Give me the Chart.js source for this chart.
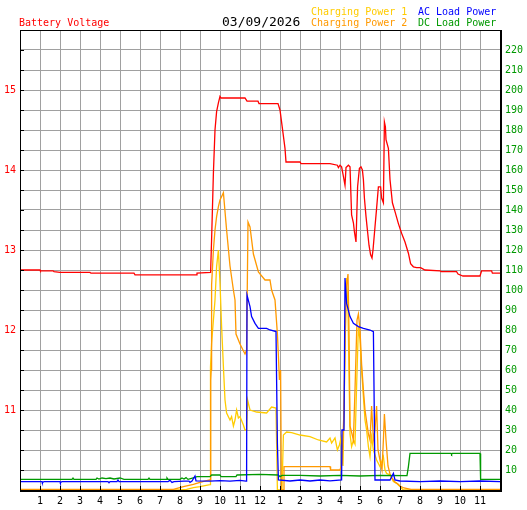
<!DOCTYPE html>
<html>
<head>
<meta charset="utf-8">
<script src="https://cdn.jsdelivr.net/npm/chart.js@4"></script>
<style>
  body { margin: 0; background: #fff; }
  #contenedor { position: relative; width: 527px; height: 510px; }
  #grafico { position: absolute; left: 0; top: 0; }
  .cabecera { position: absolute; font-family: "DejaVu Sans Mono", monospace; font-size: 10px; line-height: 10px; white-space: pre; }
</style>
</head>
<body>
<div id="contenedor">
  <canvas id="grafico" width="527" height="510"></canvas>
  <span class="cabecera" style="left:19px; top:18px; color:#ff0000;">Battery Voltage</span>
  <span class="cabecera" style="left:222px; top:14.5px; font-size:13px; line-height:13px; color:#000;">03/09/2026</span>
  <span class="cabecera" style="left:311px; top:6.5px; color:#ffcc00;">Charging Power 1</span>
  <span class="cabecera" style="left:311px; top:18px; color:#ff9900;">Charging Power 2</span>
  <span class="cabecera" style="left:418px; top:6.5px; color:#0000ff;">AC Load Power</span>
  <span class="cabecera" style="left:418px; top:18px; color:#009900;">DC Load Power</span>
</div>
<script>
// DATOS (hora del dia, valor)
const hourLabels = ['', '1', '2', '3', '4', '5', '6', '7', '8', '9', '10', '11', '12',
    '1', '2', '3', '4', '5', '6', '7', '8', '9', '10', '11', ''];

const batteryVoltage = [[0,12.75],[1.0,12.75],[1.02,12.74],[1.65,12.74],[1.7,12.73],[2.0,12.72],[3.5,12.72],[3.55,12.71],
    [5.7,12.71],[5.75,12.69],[8.8,12.69],[8.85,12.71],[9.53,12.72],[9.58,13.13],[9.67,13.96],[9.75,14.5],[9.83,14.73],
    [9.92,14.84],[10.0,14.92],[10.05,14.9],[11.25,14.9],[11.35,14.86],[11.9,14.86],[11.95,14.83],[12.9,14.83],[13.0,14.75],
    [13.25,14.27],[13.3,14.1],[14.0,14.1],[14.05,14.08],[15.5,14.08],[15.87,14.06],[15.92,14.03],[16.0,14.06],[16.08,14.04],
    [16.17,13.92],[16.25,13.81],[16.3,14.03],[16.42,14.06],[16.5,14.04],[16.58,13.44],[16.67,13.34],[16.72,13.23],[16.8,13.1],
    [16.88,13.79],[16.97,14.02],[17.05,14.04],[17.12,14.0],[17.17,13.88],[17.22,13.65],[17.3,13.42],[17.37,13.25],[17.45,13.06],
    [17.53,12.94],[17.6,12.9],[17.65,13.0],[17.75,13.29],[17.83,13.52],[17.92,13.79],[18.03,13.79],[18.08,13.65],[18.17,13.59],
    [18.22,14.6],[18.27,14.54],[18.3,14.38],[18.42,14.27],[18.5,13.88],[18.62,13.59],[18.75,13.48],[18.92,13.33],[19.08,13.21],
    [19.25,13.1],[19.42,12.96],[19.53,12.83],[19.67,12.79],[19.83,12.78],[20.03,12.78],[20.25,12.75],[21.0,12.74],[21.05,12.73],
    [21.83,12.73],[21.9,12.7],[22.15,12.675],[23.0,12.675],[23.08,12.74],[23.58,12.74],[23.62,12.71],[24,12.71]];

const chargingPower1 = [[0,0],[8.0,0],[8.33,0.3],[8.67,1.2],[9.0,1.7],[9.5,2.7],[9.52,2.7],[9.53,61.5],[9.58,73.5],[9.75,95],
    [9.83,111.7],[9.92,120],[10.0,103.5],[10.08,81.7],[10.17,61.7],[10.25,45],[10.33,38.5],[10.5,35],[10.58,36.7],[10.67,32],
    [10.75,35],[10.83,40],[10.92,36],[11.0,36.7],[11.17,32.5],[11.25,30],[11.33,30],[11.38,45],[11.5,40],[11.83,39],[12.33,38.5],
    [12.58,41.5],[12.8,41],[12.87,0],[13.1,0],[13.17,27.5],[13.33,29],[13.58,28.7],[14.0,27.5],[14.5,26.7],[14.92,25],[15.33,24],
    [15.5,26],[15.58,23.5],[15.75,26],[15.87,20],[15.97,22.5],[16.05,26],[16.1,18],[16.15,12],[16.25,70],[16.33,106],[16.4,90],
    [16.5,28],[16.58,21.7],[16.67,25],[16.75,23],[16.83,51.7],[16.92,81.7],[17.0,75],[17.08,60],[17.17,46.7],[17.25,35],[17.33,30],
    [17.42,21.7],[17.5,16.7],[17.58,26.7],[17.67,20],[17.83,15],[18.0,11.7],[18.17,16.7],[18.25,10],[18.33,8.3],[18.5,7.5],
    [18.67,4.2],[18.83,3.3],[19.0,1.7],[19.17,0],[24,0]];

const chargingPower2 = [[0,0.3],[7.67,0.3],[8.17,1.7],[8.67,2.8],[9.0,3.8],[9.33,4.7],[9.5,5],[9.53,5.5],[9.54,55],[9.56,60],
    [9.58,102.5],[9.67,120],[9.75,130],[9.83,136.7],[9.92,141.7],[10.0,145],[10.17,148.6],[10.33,130],[10.5,112],[10.67,100],
    [10.75,95],[10.8,78],[11.0,73],[11.25,68],[11.33,70],[11.4,134],[11.5,131.5],[11.67,118],[11.92,109],[12.25,105],[12.5,105],
    [12.58,100],[12.75,95],[12.87,78],[12.92,67],[12.97,55],[13.03,60],[13.07,0],[13.15,0],[13.2,11.7],[15.5,11.7],[15.53,10],
    [16.0,10],[16.1,13],[16.2,40],[16.3,100],[16.4,108],[16.45,80],[16.5,32],[16.6,28],[16.67,25],[16.75,50],[16.85,85],[16.92,88],
    [17.0,80],[17.08,63],[17.17,50],[17.25,40],[17.42,28],[17.5,25],[17.58,42],[17.67,25],[17.75,30],[17.83,42],[17.9,20],[18.0,15],
    [18.1,10],[18.17,25],[18.22,38],[18.3,25],[18.4,12],[18.5,8],[18.6,6],[18.75,4],[18.9,3],[19.0,2],[19.2,1],[19.55,0.3],[24,0.3]];

const acLoadPower = [[0,4.2],[1.1,4.2],[1.12,3.6],[1.2,4.2],[2.0,4.2],[2.02,3.6],[2.1,4.2],[4.4,4.2],[4.45,3.6],[4.5,4.2],
    [4.85,4.2],[4.9,5],[4.95,4.2],[7.4,4.2],[7.5,4.8],[7.6,3.8],[7.7,4.2],[8.2,4.4],[8.45,4.4],[8.5,3.8],[8.6,4.5],[8.75,7],
    [8.8,4.6],[9.5,4.4],[10.0,4.7],[10.5,4.4],[11.0,4.8],[11.3,4.4],[11.33,5],[11.35,97.5],[11.5,91.7],[11.58,86.7],[11.75,83.3],
    [11.92,80.8],[12.33,80.8],[12.5,80],[12.8,79.2],[12.87,23.3],[12.92,5],[13.5,4.5],[14.0,5],[14.5,4.5],[15.0,5],[15.5,4.6],
    [16.08,5],[16.1,30],[16.2,30],[16.25,106],[16.33,93.3],[16.5,86.7],[16.67,83.3],[16.92,81.7],[17.17,80.8],[17.5,80],
    [17.67,79.2],[17.75,5],[18.5,5],[18.67,8.3],[18.75,5],[19.0,4.5],[20.0,4.2],[21.0,4.5],[22.0,4.2],[23.0,4.5],[24,4.2]];

const dcLoadPower = [[0,5.3],[2.6,5.3],[2.65,6],[2.7,5.3],[3.8,5.3],[3.85,6],[3.95,5.5],[4.1,6],[4.3,5.7],[4.5,6],[4.7,5.5],
    [5.0,6],[5.2,5.3],[6.4,5.3],[6.45,6],[6.5,5.3],[7.3,5.3],[7.35,6],[7.4,5.3],[8.0,5.3],[8.1,6],[8.2,5.5],[8.3,6.2],[8.4,5.3],
    [8.75,6.3],[8.85,6.7],[9.5,6.7],[9.58,7.5],[10.0,7.5],[10.05,6.7],[10.8,6.7],[10.85,7.5],[12.0,7.8],[12.9,7.5],[13.0,6.7],
    [13.1,7.3],[14.0,7.3],[15.0,7.0],[16.0,7.3],[17.0,7.0],[18.0,7.3],[19.35,7.2],[19.42,11.7],[19.5,18.3],[21.55,18.3],
    [21.58,17.8],[21.62,18.3],[23.0,18.3],[23.03,5.3],[24,5.3]];

const fuente = "'DejaVu Sans Mono', monospace";

function puntos(serie) {
    return serie.map(function (p) { return { x: p[0], y: p[1] }; });
}

// marco negro y marcas de los ejes hacia dentro
const marcoPlugin = {
    id: 'marco',
    afterDatasetsDraw: function (chart) {
        const c = chart.ctx;
        const a = chart.chartArea;
        const sx = chart.scales.x;
        const sv = chart.scales.yVolt;
        c.save();
        c.fillStyle = '#000';
        for (let h = 1; h < 24; h++) {
            const px = Math.round(sx.getPixelForValue(h));
            c.fillRect(px, a.bottom - 4, 1, 4);
        }
        sv.ticks.forEach(function (t) {
            const py = Math.round(sv.getPixelForValue(t.value));
            c.fillRect(a.left, py, 4, 1);
        });
        c.fillRect(a.left, a.top, 1, a.bottom - a.top + 1);
        c.fillRect(a.left, a.top, a.right - a.left + 1, 1);
        c.fillRect(a.right, a.top, 2, a.bottom - a.top + 2);
        c.fillRect(a.left, a.bottom, a.right - a.left + 2, 2);
        c.restore();
    }
};

const ctx = document.getElementById('grafico').getContext('2d');

var chart = new Chart(ctx, {
    type: 'line',
    data: {
        datasets: [
            { label: 'Battery Voltage', data: puntos(batteryVoltage), borderColor: '#ff0000', yAxisID: 'yVolt' },
            { label: 'AC Load Power', data: puntos(acLoadPower), borderColor: '#0000ff', yAxisID: 'yPower' },
            { label: 'DC Load Power', data: puntos(dcLoadPower), borderColor: '#009900', yAxisID: 'yPower' },
            { label: 'Charging Power 2', data: puntos(chargingPower2), borderColor: '#ff9900', yAxisID: 'yPower' },
            { label: 'Charging Power 1', data: puntos(chargingPower1), borderColor: '#ffcc00', yAxisID: 'yPower' }
        ]
    },
    options: {
        responsive: false,
        animation: false,
        devicePixelRatio: 1,
        layout: { padding: { top: 30, left: 0, right: 0, bottom: 0 } },
        elements: {
            point: { radius: 0 },
            line: { borderWidth: 1.3, tension: 0, fill: false }
        },
        plugins: {
            legend: { display: false },
            tooltip: { enabled: false }
        },
        scales: {
            x: {
                type: 'linear',
                min: 0,
                max: 24,
                grid: { color: '#a0a0a0', drawTicks: false },
                border: { display: false },
                ticks: {
                    stepSize: 1,
                    autoSkip: false,
                    maxRotation: 0,
                    padding: 5,
                    color: '#000',
                    font: { family: fuente, size: 10 },
                    callback: function (v) { return hourLabels[Math.round(v)]; }
                },
                afterFit: function (s) { s.height = 20; }
            },
            yVolt: {
                position: 'left',
                min: 10,
                max: 15.75,
                grid: { color: '#a0a0a0', drawTicks: false },
                border: { display: false },
                ticks: {
                    stepSize: 0.25,
                    autoSkip: false,
                    padding: 4,
                    color: '#ff0000',
                    font: { family: fuente, size: 10 },
                    callback: function (v) { return (v % 1 === 0 && v > 10) ? String(v) : ''; }
                },
                afterFit: function (s) { s.width = 20; }
            },
            yPower: {
                position: 'right',
                min: 0,
                max: 230,
                grid: { display: false, drawTicks: false },
                border: { display: false },
                ticks: {
                    stepSize: 10,
                    autoSkip: false,
                    padding: 5,
                    color: '#009900',
                    font: { family: fuente, size: 10 },
                    callback: function (v) { return (v > 0 && v < 230) ? String(v) : ''; }
                },
                afterFit: function (s) { s.width = 27; }
            }
        }
    },
    plugins: [marcoPlugin]
});
</script>
</body>
</html>
